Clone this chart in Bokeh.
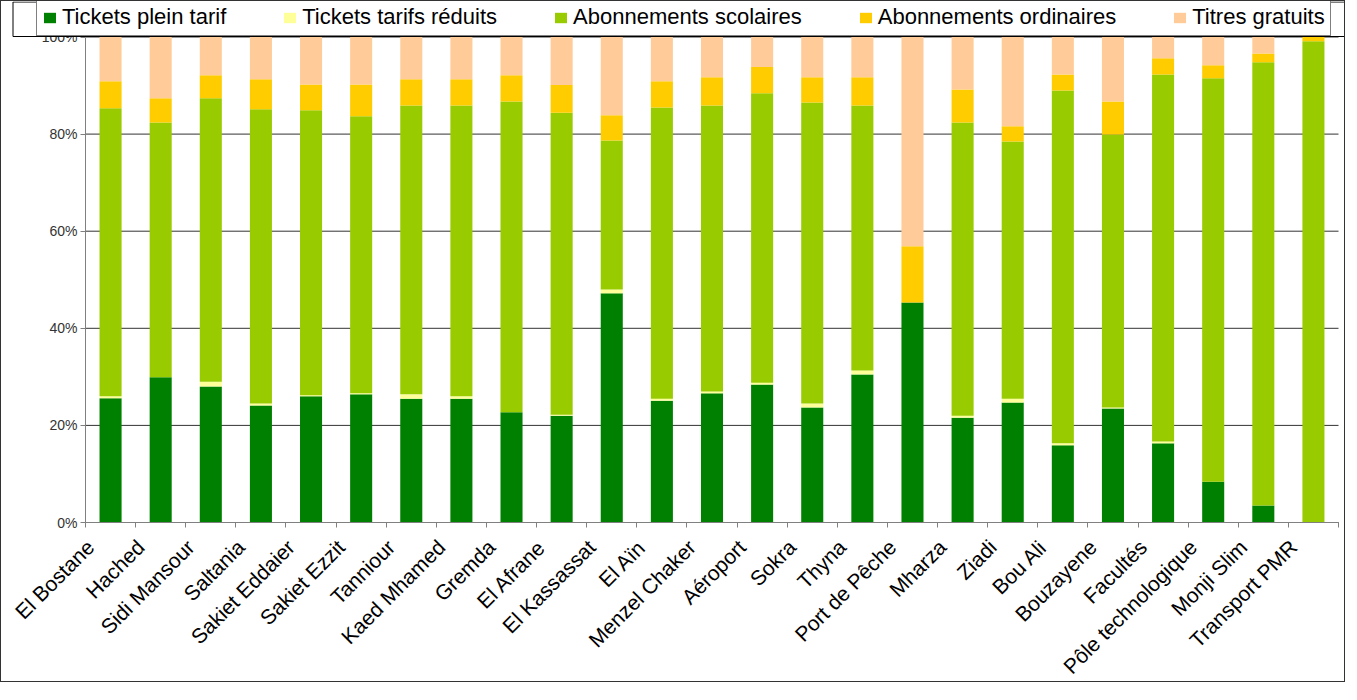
import math
from bokeh.plotting import figure
from bokeh.models import (ColumnDataSource, Range1d, FixedTicker, PrintfTickFormatter,
                          Legend, LegendItem, BoxAnnotation)
from bokeh.embed import file_html
from bokeh.resources import INLINE

categories = ["El Bostane", "Hached", "Sidi Mansour", "Saltania", "Sakiet Eddaier",
              "Sakiet Ezzit", "Tanniour", "Kaed Mhamed", "Gremda", "El Afrane",
              "El Kassassat", "El Aïn", "Menzel Chaker", "Aéroport", "Sokra", "Thyna",
              "Port de Pêche", "Mharza", "Ziadi", "Bou Ali", "Bouzayene", "Facultés",
              "Pôle technologique", "Monji Slim", "Transport PMR"]

plein = [25.6, 29.9, 28.0, 24.1, 26.0, 26.4, 25.5, 25.5, 22.7, 22.0, 47.2, 25.1, 26.6,
         28.4, 23.7, 30.5, 45.3, 21.6, 24.7, 15.9, 23.5, 16.3, 8.4, 3.5, 0.0]
reduits = [0.4, 0.0, 1.0, 0.4, 0.2, 0.2, 0.9, 0.5, 0.0, 0.2, 0.8, 0.4, 0.4,
           0.4, 0.8, 0.8, 0.0, 0.4, 0.8, 0.4, 0.2, 0.4, 0.0, 0.0, 0.0]
scolaires = [59.3, 52.5, 58.4, 60.6, 58.7, 57.1, 59.5, 59.9, 64.0, 62.2, 30.7, 60.0, 58.9,
             59.6, 62.0, 54.6, 0.0, 60.4, 53.0, 72.7, 56.2, 75.6, 83.1, 91.3, 99.1]
ordinaires = [5.6, 5.0, 4.7, 6.2, 5.3, 6.5, 5.4, 5.4, 5.4, 5.7, 5.2, 5.4, 5.8,
              5.4, 5.2, 5.8, 11.6, 6.8, 3.1, 3.3, 6.8, 3.3, 2.7, 1.8, 0.9]
gratuits = [9.1, 12.6, 7.9, 8.7, 9.8, 9.8, 8.7, 8.7, 7.9, 9.9, 16.1, 9.1, 8.3,
            6.2, 8.3, 8.3, 43.1, 10.8, 18.4, 7.7, 13.3, 4.4, 5.8, 3.4, 0.0]

series_names = ["Tickets plein tarif", "Tickets tarifs réduits", "Abonnements scolaires",
                "Abonnements ordinaires", "Titres gratuits"]
series_keys = ["plein", "reduits", "scolaires", "ordinaires", "gratuits"]
colors = ["#008000", "#FFFF99", "#99CC00", "#FFCC00", "#FFCC99"]
y_ticks = [0, 20, 40, 60, 80, 100]

n = len(categories)
xpos = [i + 0.5 for i in range(n)]
label_pos = [round(i + 0.1, 2) for i in range(n)]  # labels anchored left of bar centre
src = ColumnDataSource(dict(x=xpos, plein=plein, reduits=reduits, scolaires=scolaires,
                            ordinaires=ordinaires, gratuits=gratuits))

FONT = "Liberation Sans"

# layout geometry (canvas pixels); the frame covers the whole canvas
W, H = 1345, 682
AXIS_X, PLOT_R = 84, 1337          # x=0 and x=n
PLOT_T, PLOT_B = 35.5, 521         # y=100 and y=0
LEG_X = 35                         # legend content start
BOX_L, BOX_R, BOX_T, BOX_B = 11.5, 1344, 0.5, 35
px_x = (PLOT_R - AXIS_X) / n
px_y = (PLOT_B - PLOT_T) / 100.0


def dx(px):
    return (px - AXIS_X) / px_x


def dy(py):
    return (PLOT_B - py) / px_y


p = figure(width=W, height=H, x_range=Range1d(dx(0), dx(W)), y_range=Range1d(dy(H), dy(0)),
           output_backend="svg", toolbar_location=None,
           min_border_left=0, min_border_right=0, min_border_top=0, min_border_bottom=0)
p.styles = {"border": "1px solid #333333"}
p.outline_line_color = None
p.background_fill_color = "white"
p.border_fill_color = "white"
p.xgrid.visible = False
p.ygrid.visible = False

# horizontal gridlines restricted to the plot area
p.segment(x0=[0] * len(y_ticks), x1=[n] * len(y_ticks), y0=y_ticks, y1=y_ticks,
          line_color="#333333", line_width=1)

renderers = p.vbar_stack(series_keys, x="x", width=0.44, source=src,
                         fill_color=colors, line_color=None)

ya = p.yaxis[0]
ya.fixed_location = 0
ya.bounds = (0, 100)
ya.ticker = FixedTicker(ticks=y_ticks)
ya.formatter = PrintfTickFormatter(format="%d%%")
ya.axis_line_color = "#808080"
ya.major_tick_line_color = "#808080"
ya.major_tick_out = 5
ya.major_tick_in = 0
ya.minor_tick_line_color = None
ya.major_label_text_font = FONT
ya.major_label_text_font_size = "14px"
ya.major_label_text_color = "#333333"
ya.major_label_standoff = 3

xa = p.xaxis[0]
xa.fixed_location = 0
xa.bounds = (0, n)
xa.ticker = FixedTicker(ticks=label_pos, minor_ticks=list(range(n + 1)))
xa.major_label_overrides = {x: c for x, c in zip(label_pos, categories)}
xa.major_tick_line_color = None
xa.major_tick_out = 0
xa.major_tick_in = 0
xa.minor_tick_line_color = "#808080"
xa.minor_tick_out = 5
xa.minor_tick_in = 0
xa.axis_line_color = "#808080"
xa.major_label_orientation = math.pi / 4
xa.major_label_text_font = FONT
xa.major_label_text_font_size = "21px"
xa.major_label_text_color = "black"
xa.major_label_standoff = 16

legend = Legend(items=[LegendItem(label=nm, renderers=[r]) for nm, r in zip(series_names, renderers)],
                orientation="horizontal", location=(LEG_X, H - BOX_B),
                spacing=56, padding=5, glyph_width=15, glyph_height=13, label_standoff=5,
                label_height=25, label_text_font=FONT, label_text_font_size="22px",
                label_text_color="black", border_line_color="black", border_line_width=1,
                background_fill_color="white", background_fill_alpha=1.0, margin=0)
p.add_layout(legend, "center")

# legend frame
p.add_layout(BoxAnnotation(left=dx(BOX_L), right=dx(BOX_R), top=dy(BOX_T), bottom=dy(BOX_B),
                           fill_alpha=0, line_color="black", line_width=1, line_alpha=1,
                           level="overlay"))

open("out.html", "w").write(file_html(p, INLINE))
